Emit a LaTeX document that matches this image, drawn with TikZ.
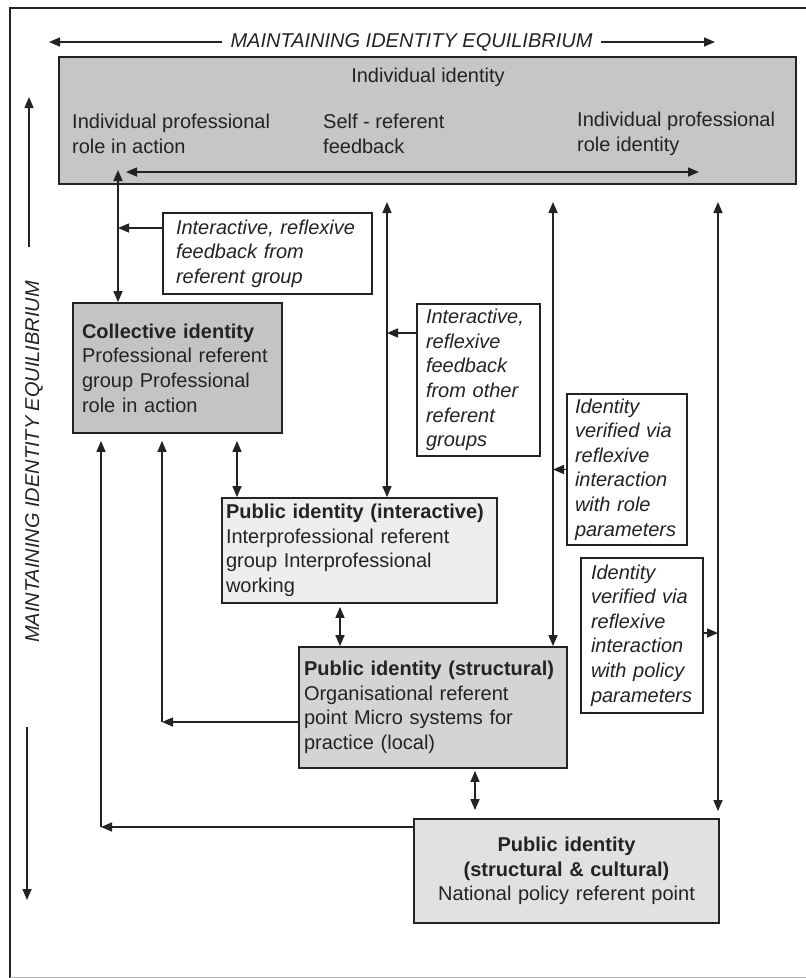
\documentclass[tikz,border=0pt]{standalone}
\usepackage{fontspec}
\setmainfont{Liberation Sans}
\usetikzlibrary{arrows.meta,calc}
\definecolor{ink}{RGB}{35,35,35}
\definecolor{gA}{RGB}{198,198,198}
\definecolor{gB}{RGB}{196,196,196}
\definecolor{gC}{RGB}{238,238,238}
\definecolor{gD}{RGB}{212,212,212}
\definecolor{gE}{RGB}{225,225,225}
\newcommand\dgfs{\fontsize{20}{24.6}\selectfont}
\begin{document}
\begin{tikzpicture}[x=1pt,y=-1pt,
  >={Triangle[length=11pt,width=9pt]},
  every node/.style={font=\dgfs, text=ink},
  box/.style={draw=ink, line width=1.8pt, inner ysep=2pt, align=left},
  fbox/.style={box, fill=white, font=\dgfs\itshape},
  conn/.style={draw=ink, line width=1.5pt},
  lbl/.style={inner sep=0pt, align=left}
]
\useasboundingbox (0,0) rectangle (806,978);
% frame
\draw[ink, line width=1.3pt] (10,978) -- (10,8) -- (806,8);
\draw[ink!35, line width=1pt] (10,977) -- (806,977);

% top title
\node[font=\dgfs\itshape, inner xsep=8pt] (ttl) at (411.5,42) {MAINTAINING IDENTITY EQUILIBRIUM};
\coordinate (tl) at (49,42);
\coordinate (tr) at (715,42);
\draw[conn,->] (ttl.west) -- (tl);
\draw[conn,->] (ttl.east) -- (tr);

% left title
\node[font=\dgfs\itshape, rotate=90] (ltl) at (34,462) {MAINTAINING IDENTITY EQUILIBRIUM};
\coordinate (lu1) at (29,247);
\coordinate (lu2) at (29,97);
\coordinate (ld1) at (27,727);
\coordinate (ld2) at (27,900);
\draw[conn,->] (lu1) -- (lu2);
\draw[conn,->] (ld1) -- (ld2);

% individual identity
\node[box, fill=gA, minimum width=737pt, minimum height=127pt] (ind) at (427.5,120.5) {};
\node[anchor=base, inner sep=0pt] (indt) at (428,82) {Individual identity};
\node[lbl, anchor=west] (ind1) at (72,134) {Individual professional\\role in action};
\node[lbl, anchor=west] (ind2) at (323,134) {Self - referent\\feedback};
\node[lbl, anchor=west] (ind3) at (577,134) {Individual professional\\role identity};
\coordinate (ia1) at (126,172);
\coordinate (ia2) at (699,172);
\draw[conn,<->] (ia1) -- (ia2);

% feedback boxes
\node[fbox, text width=183pt, inner xsep=13pt, minimum height=81pt] (fb1) at (267.5,253.5)
  {Interactive, reflexive\\feedback from\\referent group};
\node[fbox, text width=105pt, inner xsep=9pt, minimum height=152pt] (fb2) at (478.5,380)
  {Interactive,\\reflexive\\feedback\\from other\\referent\\groups};
\node[fbox, text width=104pt, inner xsep=8pt, minimum height=151pt] (fb3) at (627,469.5)
  {Identity\\verified via\\reflexive\\interaction\\with role\\parameters};
\node[fbox, text width=102pt, inner xsep=10pt, minimum height=155pt] (fb4) at (642,635.5)
  {Identity\\verified via\\reflexive\\interaction\\with policy\\parameters};

% identity boxes
\node[box, fill=gB, text width=191pt, inner xsep=9pt, minimum height=130pt] (coll) at (177.5,368)
  {\textbf{Collective identity}\\Professional referent\\group Professional\\role in action};
\node[box, fill=gC, text width=267pt, inner xsep=4pt, minimum height=105pt] (pint) at (359.5,550.5)
  {\textbf{Public identity (interactive)}\\Interprofessional referent\\group Interprofessional\\working};
\node[box, fill=gD, text width=258pt, inner xsep=5pt, minimum height=121pt] (pstr) at (433,707.5)
  {\textbf{Public identity (structural)}\\Organisational referent\\point Micro systems for\\practice (local)};
\node[box, fill=gE, text width=289pt, inner xsep=8pt, minimum height=104pt, align=center] (nat) at (566.5,871)
  {\textbf{Public identity}\\\textbf{(structural \& cultural)}\\National policy referent point};

% column coordinates
\coordinate (x118) at (118,170);
\coordinate (x387) at (387,202);
\coordinate (x553) at (553,202);
\coordinate (x719) at (718,202);
\coordinate (x100) at (101,0);
\coordinate (x162) at (162,0);
\coordinate (x237) at (237,0);
\coordinate (x340) at (340,0);
\coordinate (x475) at (475,0);

% connectors
\draw[conn,<->] (x118) -- (coll.north -| x118);
\coordinate (f1a) at ([yshift=25.5pt]fb1.west);
\draw[conn,->] (f1a) -- (f1a -| x118);

\draw[conn,<->] (x387) -- (pint.north -| x387);
\coordinate (f2a) at ([yshift=47pt]fb2.west);
\draw[conn,->] (f2a) -- (f2a -| x387);

\draw[conn,<->] (x553) -- (pstr.north -| x553);
\draw[conn,->] (fb3.west) -- (fb3.west -| x553);

\draw[conn,<->,shorten >=7pt] (x719) -- (nat.north -| x719);
\coordinate (f4a) at ([yshift=2.5pt]fb4.east);
\draw[conn,->] (f4a) -- (f4a -| x719);

\draw[conn,<->,shorten <=7pt] (coll.south -| x237) -- (pint.north -| x237);
\draw[conn,<->,shorten <=3pt] (pint.south -| x340) -- (pstr.north -| x340);
\draw[conn,<->,shorten <=2pt,shorten >=8pt] (pstr.south -| x475) -- (nat.north -| x475);

\coordinate (psa) at ([yshift=-14.5pt]pstr.west);
\draw[conn,->] (psa) -- (psa -| x162);
\draw[conn,->,shorten >=7pt] (psa -| x162) -- (coll.south -| x162);

\coordinate (nta) at ([yshift=44pt]nat.west);
\draw[conn,->] (nta) -- (nta -| x100);
\draw[conn,->,shorten >=7pt] (nta -| x100) -- (coll.south -| x100);
\end{tikzpicture}
\end{document}
